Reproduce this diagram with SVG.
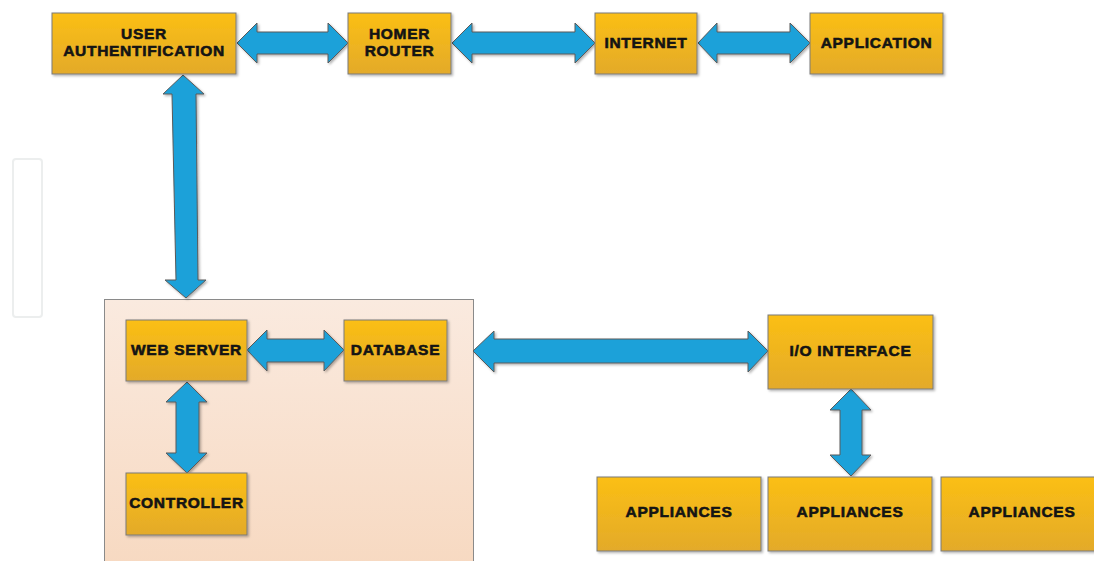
<svg xmlns="http://www.w3.org/2000/svg" width="1094" height="561" viewBox="0 0 1094 561">
<defs>
<linearGradient id="gold" x1="0" y1="0" x2="0" y2="1">
<stop offset="0" stop-color="#fbbf14"/>
<stop offset="1" stop-color="#e3aa2a"/>
</linearGradient>
<linearGradient id="peach" x1="0" y1="0" x2="0" y2="1">
<stop offset="0" stop-color="#faeadf"/>
<stop offset="1" stop-color="#f7d9c1"/>
</linearGradient>
<filter id="sh" x="-10%" y="-10%" width="130%" height="130%">
<feDropShadow dx="1.5" dy="1.5" stdDeviation="1.2" flood-color="#000" flood-opacity="0.3"/>
</filter>
</defs>
<style>
.box{fill:url(#gold);stroke:#7a7a7a;stroke-width:1;filter:url(#sh)}
.lbl{font-family:"Liberation Sans",Arial,sans-serif;font-weight:bold;font-size:15.5px;letter-spacing:0.7px;fill:#141414;stroke:#141414;stroke-width:0.6;text-anchor:middle}
.arr{fill:#1ba1d9;stroke:#5a5a5a;stroke-width:1;filter:url(#sh)}
</style>
<rect x="0" y="0" width="1094" height="561" fill="#ffffff"/>
<rect x="13" y="159" width="29" height="158" rx="3" fill="#ffffff" stroke="#eceeee" stroke-width="2"/>
<g id="container">
<rect x="104.5" y="299.5" width="369" height="270" fill="url(#peach)" stroke="#8a8a8a" stroke-width="1"/>
</g>
<g id="connectors">
<polygon class="arr" points="237,43 257,23 257,32 328,32 328,23 348,43 328,63 328,54 257,54 257,63"/>
<polygon class="arr" points="452,43 472,23 472,32 575,32 575,23 595,43 575,63 575,54 472,54 472,63"/>
<polygon class="arr" points="698,43 717,23 717,32 790,32 790,23 810,43 790,63 790,54 717,54 717,63"/>
<polygon class="arr" points="183,75 204,94 196,94 198,280 206,280 186,298 165,280 176,280 172,94 163,94"/>
<polygon class="arr" points="247,350 267,330 267,339 324,339 324,330 344,350 324,371 324,362 267,362 267,371"/>
<polygon class="arr" points="187,382 207,402 199,402 199,453 207,453 187,473 166,453 176,453 176,402 166,402"/>
<polygon class="arr" points="473,351 494,331 494,339 748,339 748,331 768,351 748,372 748,363 494,363 494,372"/>
<polygon class="arr" points="851,389 871,410 862,410 862,455 871,455 851,476 830,455 840,455 840,410 830,410"/>
</g>
<g id="user-auth">
<rect class="box" x="52" y="13" width="184" height="61"/>
<text class="lbl" x="144" y="39">USER</text>
<text class="lbl" x="144" y="56">AUTHENTIFICATION</text>
</g>
<g id="homer-router">
<rect class="box" x="348" y="13" width="103" height="61"/>
<text class="lbl" x="399.5" y="39">HOMER</text>
<text class="lbl" x="399.5" y="56">ROUTER</text>
</g>
<g id="internet">
<rect class="box" x="595" y="13" width="102" height="61"/>
<text class="lbl" x="646" y="48">INTERNET</text>
</g>
<g id="application">
<rect class="box" x="810" y="13" width="133" height="61"/>
<text class="lbl" x="876.5" y="48">APPLICATION</text>
</g>
<g id="web-server">
<rect class="box" x="126" y="320" width="121" height="61"/>
<text class="lbl" x="186.5" y="355">WEB SERVER</text>
</g>
<g id="database">
<rect class="box" x="344" y="320" width="103" height="61"/>
<text class="lbl" x="395.5" y="355">DATABASE</text>
</g>
<g id="controller">
<rect class="box" x="126" y="473" width="121" height="62"/>
<text class="lbl" x="186.5" y="508">CONTROLLER</text>
</g>
<g id="io-interface">
<rect class="box" x="768" y="315" width="165" height="74"/>
<text class="lbl" x="850.5" y="356">I/O INTERFACE</text>
</g>
<g id="appliances-1">
<rect class="box" x="597" y="477" width="164" height="74"/>
<text class="lbl" x="679" y="517">APPLIANCES</text>
</g>
<g id="appliances-2">
<rect class="box" x="768" y="477" width="164" height="74"/>
<text class="lbl" x="850" y="517">APPLIANCES</text>
</g>
<g id="appliances-3">
<rect class="box" x="941" y="477" width="160" height="74"/>
<text class="lbl" x="1022" y="517">APPLIANCES</text>
</g>
</svg>
